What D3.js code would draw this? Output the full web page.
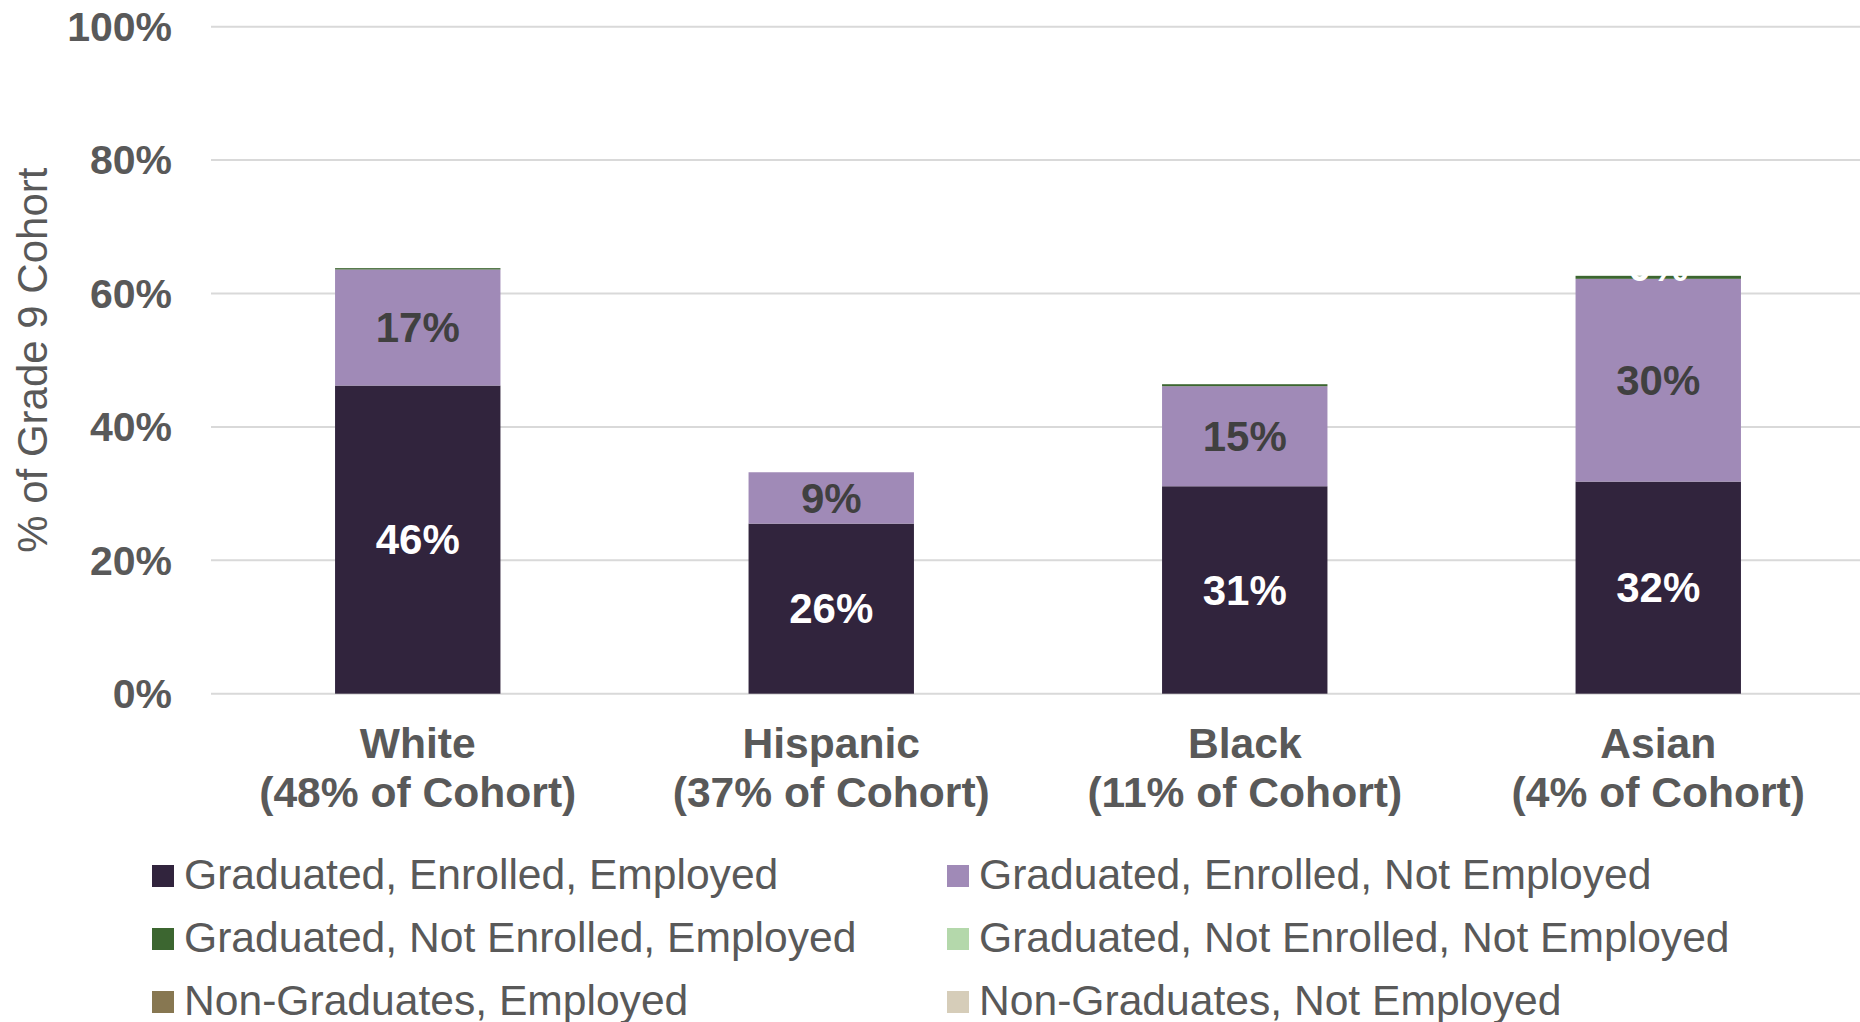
<!DOCTYPE html>
<html>
<head>
<meta charset="utf-8">
<script src="https://cdn.jsdelivr.net/npm/d3@7"></script>
<style>
  html, body { margin: 0; padding: 0; background: #ffffff; }
  svg { display: block; font-family: "Liberation Sans", Arial, sans-serif; }
</style>
</head>
<body>
<svg id="chart" width="1860" height="1022"></svg>
<script>
// ---------- DATA ----------
const categories = ["White", "Hispanic", "Black", "Asian"];
const cohortShares = ["48% of Cohort", "37% of Cohort", "11% of Cohort", "4% of Cohort"];

const seriesNames = [
  "Graduated, Enrolled, Employed",
  "Graduated, Enrolled, Not Employed",
  "Graduated, Not Enrolled, Employed",
  "Graduated, Not Enrolled, Not Employed",
  "Non-Graduates, Employed",
  "Non-Graduates, Not Employed"
];
const seriesColors = ["#31243d", "#a08ab7", "#3c6630", "#b4d8ab", "#877751", "#d6cdb9"];

// values in % of grade 9 cohort
const gradEnrolledEmployed       = [46.2, 25.5, 31.1, 31.8];
const gradEnrolledNotEmployed    = [17.4, 7.7, 15.0, 30.4];
const gradNotEnrolledEmployed    = [0.2, 0.0, 0.3, 0.45];
const gradNotEnrolledNotEmployed = [0, 0, 0, 0];
const nonGradEmployed            = [0, 0, 0, 0];
const nonGradNotEmployed         = [0, 0, 0, 0];

// data labels as printed on the chart
const labelsGEE  = ["46%", "26%", "31%", "32%"];
const labelsGENE = ["17%", "9%", "15%", "30%"];
const labelsGNEE = ["", "", "", "0%"];

const yTicks = [0, 20, 40, 60, 80, 100];
const yTitle = "% of Grade 9 Cohort";

// ---------- LAYOUT ----------
const W = 1860, H = 1022;
const plot = { left: 211, right: 1860, top: 26.7, bottom: 693.7 };
const grey = "#595959";

const svg = d3.select("#chart");

const x = d3.scaleBand()
  .domain(categories)
  .range([plot.left, plot.right + 5])
  .paddingInner(0.6)
  .paddingOuter(0.3);

const y = d3.scaleLinear().domain([0, 100]).range([plot.bottom, plot.top]);

// gridlines
svg.append("g").selectAll("line").data(yTicks).join("line")
  .attr("x1", plot.left).attr("x2", plot.right)
  .attr("y1", d => y(d)).attr("y2", d => y(d))
  .attr("stroke", "#d9d9d9").attr("stroke-width", 2);

// y tick labels
svg.append("g").selectAll("text").data(yTicks).join("text")
  .attr("x", 172).attr("y", d => y(d)).attr("dy", "0.35em")
  .attr("text-anchor", "end")
  .attr("font-size", 41).attr("font-weight", "bold").attr("fill", grey)
  .text(d => d + "%");

// y title
svg.append("text")
  .attr("transform", `translate(47,${(plot.top + plot.bottom) / 2}) rotate(-90)`)
  .attr("text-anchor", "middle")
  .attr("font-size", 42).attr("fill", grey)
  .text(yTitle);

// stacked data
const seriesValues = [gradEnrolledEmployed, gradEnrolledNotEmployed, gradNotEnrolledEmployed,
  gradNotEnrolledNotEmployed, nonGradEmployed, nonGradNotEmployed];
const table = categories.map((c, i) => {
  const row = { cat: c };
  seriesNames.forEach((s, j) => row[s] = seriesValues[j][i]);
  return row;
});
const stacked = d3.stack().keys(seriesNames)(table);

const gBars = svg.append("g");
stacked.forEach((layer, j) => {
  gBars.append("g").attr("fill", seriesColors[j])
    .selectAll("rect").data(layer.filter(d => d[1] - d[0] > 0)).join("rect")
    .attr("x", d => x(d.data.cat))
    .attr("width", x.bandwidth())
    .attr("y", d => y(d[1]))
    .attr("height", d => y(d[0]) - y(d[1]));
});

// segment labels
const labelSets = [
  { layer: 0, labels: labelsGEE, color: "#ffffff" },
  { layer: 1, labels: labelsGENE, color: "#404040" },
  { layer: 2, labels: labelsGNEE, color: "#ffffff" }
];
labelSets.forEach(ls => {
  const layer = stacked[ls.layer];
  svg.append("g").selectAll("text").data(layer.map((d, i) => ({ d, t: ls.labels[i] })).filter(o => o.t))
    .join("text")
    .attr("x", o => x(o.d.data.cat) + x.bandwidth() / 2)
    .attr("y", o => (o.d[1] - o.d[0]) < 1 ? y(o.d[1]) : y((o.d[0] + o.d[1]) / 2))
    .attr("dy", o => (o.d[1] - o.d[0]) < 1 ? "0.12em" : "0.35em")
    .attr("text-anchor", "middle")
    .attr("font-size", 42).attr("font-weight", "bold").attr("fill", ls.color)
    .text(o => o.t);
});

// category labels
const gCat = svg.append("g");
categories.forEach((c, i) => {
  const cx = x(c) + x.bandwidth() / 2;
  const t = gCat.append("text")
    .attr("x", cx)
    .attr("text-anchor", "middle")
    .attr("font-size", 42.6).attr("font-weight", "bold").attr("fill", grey);
  t.append("tspan").attr("x", cx).attr("y", 758).text(c);
  t.append("tspan").attr("x", cx).attr("y", 807).text("(" + cohortShares[i] + ")");
});

// legend
const legCols = [152, 947];
const legRows = [889, 952, 1015];
const gLeg = svg.append("g");
seriesNames.forEach((s, j) => {
  const cx = legCols[j % 2], by = legRows[Math.floor(j / 2)];
  gLeg.append("rect").attr("x", cx).attr("y", by - 24).attr("width", 22).attr("height", 22)
    .attr("fill", seriesColors[j]);
  gLeg.append("text").attr("x", cx + 32).attr("y", by)
    .attr("font-size", 42.6).attr("fill", grey).text(s);
});
</script>
</body>
</html>
